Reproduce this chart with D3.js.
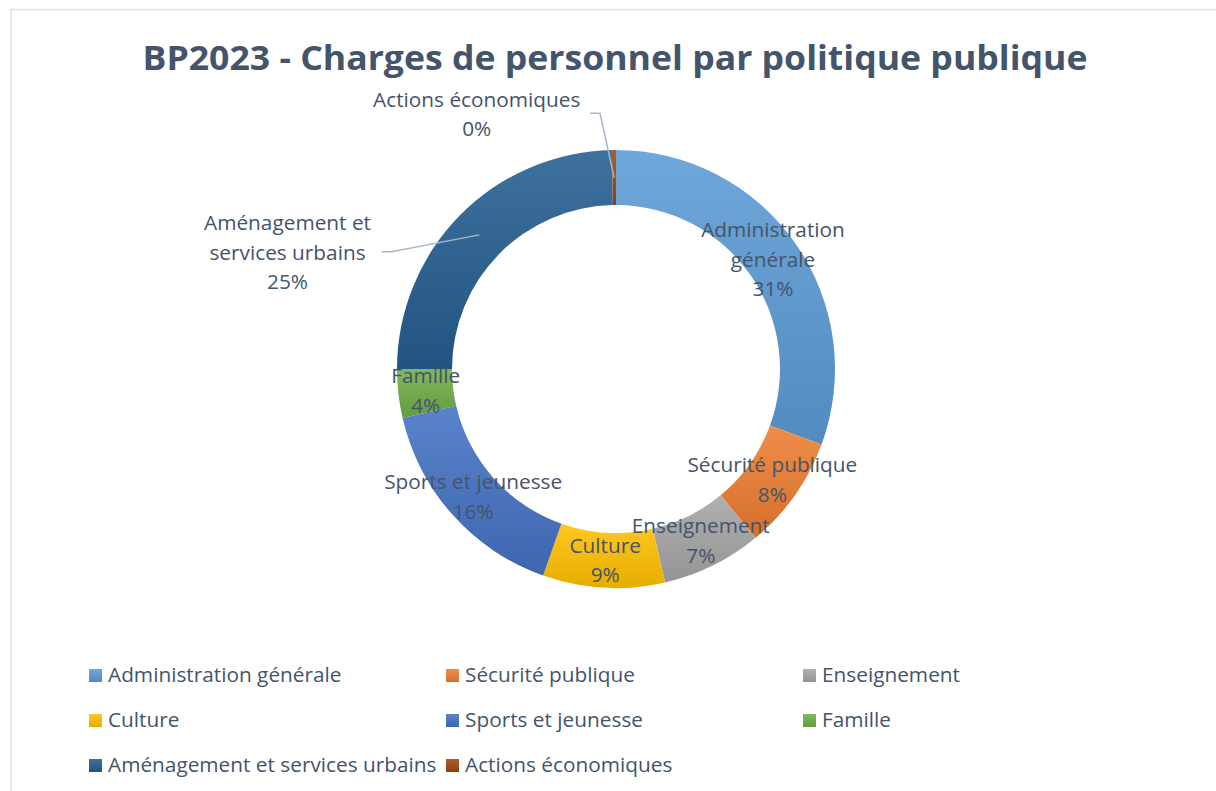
<!DOCTYPE html>
<html>
<head>
<meta charset="utf-8">
<script src="https://cdn.jsdelivr.net/npm/d3@7/dist/d3.min.js"></script>
<style>
  html, body { margin: 0; padding: 0; background: #ffffff; }
  svg { display: block; }
  text { font-family: "Open Sans", "Noto Sans", sans-serif; fill: #44546A; }
</style>
</head>
<body>
<svg id="chart" width="1216" height="791"></svg>
<script>
// ---- Data ----
const categories = [
  "Administration générale",
  "Sécurité publique",
  "Enseignement",
  "Culture",
  "Sports et jeunesse",
  "Famille",
  "Aménagement et services urbains",
  "Actions économiques"
];
const values = [30.6, 8.4, 7.4, 9.0, 16.0, 3.6, 24.7, 0.3];
const labelLines = [
  ["Administration", "générale"],
  ["Sécurité publique"],
  ["Enseignement"],
  ["Culture"],
  ["Sports et jeunesse"],
  ["Famille"],
  ["Aménagement et", "services urbains"],
  ["Actions économiques"]
];
const colors = ["#5B9BD5", "#ED7D31", "#A5A5A5", "#FFC000", "#4472C4", "#70AD47", "#255E91", "#9E480E"];
const titleText = "BP2023 - Charges de personnel par politique publique";

// ---- Layout ----
const W = 1216, H = 791;
const cx = 616, cy = 369, R = 219, r = 164;
const svg = d3.select("#chart");

// border
svg.append("path")
  .attr("d", `M11,${H} V9.5 H${W}`)
  .attr("fill", "none").attr("stroke", "#DDE2EA").attr("stroke-width", 1.5);

// title
svg.append("text")
  .attr("x", 615).attr("y", 70)
  .attr("text-anchor", "middle")
  .style("font-size", "34px").style("font-weight", "700")
  .attr("textLength", 945).attr("lengthAdjust", "spacingAndGlyphs")
  .text(titleText);

// gradients
const defs = svg.append("defs");
colors.forEach((c, i) => {
  const g = defs.append("linearGradient").attr("id", "grad" + i)
    .attr("x1", 0).attr("y1", 0).attr("x2", 0).attr("y2", 1);
  g.append("stop").attr("offset", "0%").attr("stop-color", d3.interpolateRgb(c, "#ffffff")(0.12));
  g.append("stop").attr("offset", "100%").attr("stop-color", d3.color(c).darker(0.3).formatHex());
});

const pie = d3.pie().sort(null).value(d => d)(values);
const arc = d3.arc().innerRadius(r).outerRadius(R);
const mid = d3.arc().innerRadius((r + R) / 2).outerRadius((r + R) / 2);

const g = svg.append("g").attr("transform", `translate(${cx},${cy})`);
g.selectAll("path.slice").data(pie).join("path")
  .attr("class", "slice")
  .attr("d", arc)
  .attr("fill", (d, i) => `url(#grad${i})`);

// labels
const total = d3.sum(values);
const fmt = v => Math.round(v / total * 100) + "%";
const lineH = 29.5;
const fontSize = "20.8px";
// outside label placements (relative to chart centre) for small / crowded slices
const outside = {
  6: { x: 287.5 - cx, y: 252 - cy, leader: [[381.7 - cx, 251.7 - cy], [391.7 - cx, 251.7 - cy]] },
  7: { x: 476.7 - cx, y: 114 - cy, leader: [[590 - cx, 113.3 - cy], [600 - cx, 113.3 - cy]] }
};

pie.forEach((d, i) => {
  const c = mid.centroid(d);
  let pos = { x: c[0], y: c[1] };
  if (outside[i]) {
    const o = outside[i];
    g.append("polyline")
      .attr("points", [...o.leader, c].map(p => p.join(",")).join(" "))
      .attr("fill", "none").attr("stroke", "#A9B6C8").attr("stroke-width", 1.5);
    pos = { x: o.x, y: o.y };
  }
  const lines = labelLines[i].concat([fmt(values[i])]);
  const n = lines.length;
  const t = g.append("text")
    .attr("text-anchor", "middle")
    .style("font-size", fontSize);
  lines.forEach((ln, k) => {
    t.append("tspan")
      .attr("x", pos.x)
      .attr("y", pos.y - (n - 1) * lineH / 2 + 7.5 + k * lineH)
      .text(ln);
  });
});

// legend
const colX = [89, 446, 803];
const rowY = [669, 714, 759];
const leg = svg.append("g");
categories.forEach((name, i) => {
  const col = i % 3, row = Math.floor(i / 3);
  const lg = leg.append("g").attr("transform", `translate(${colX[col]},${rowY[row]})`);
  lg.append("rect").attr("width", 13).attr("height", 13).attr("fill", `url(#grad${i})`);
  lg.append("text").attr("x", 19).attr("y", 13.3).style("font-size", fontSize).text(name);
});
</script>
</body>
</html>
